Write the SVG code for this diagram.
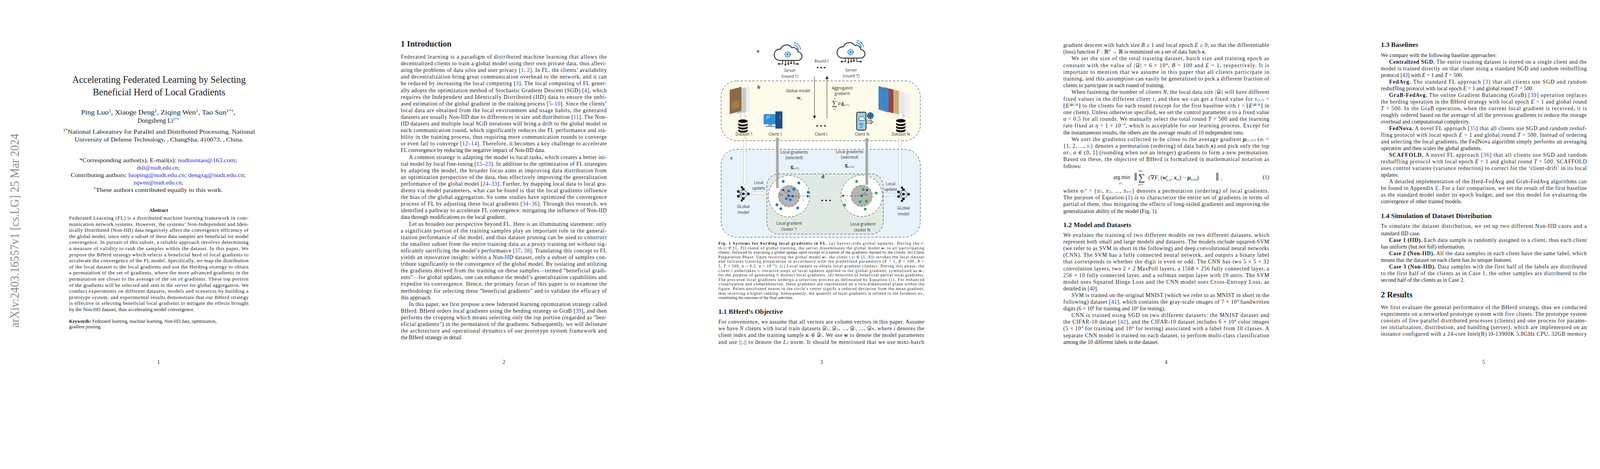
<svg xmlns="http://www.w3.org/2000/svg" width="4240" height="1200" viewBox="0 0 4240 1200">
<style>
text{font-family:"Liberation Serif","DejaVu Serif",serif;fill:#1a1a1a}
.b{font-size:14px}
.ab{font-size:13px}
.cap{font-size:10.3px}
.h1{font-size:21px;font-weight:bold}
.h2{font-size:17.5px;font-weight:bold}
.bold{font-weight:bold}
.lk{fill:#2a2ad0}
.f{font-family:"Open Sans","Liberation Sans",sans-serif;font-size:10px;fill:#2b2b2b}
.fl{font-family:"Liberation Serif",serif;font-weight:bold;font-size:13px}
.pn{font-size:14px}
.box{stroke:#333;stroke-width:1;stroke-dasharray:6 4}
</style>
<defs>
<marker id="ah" markerWidth="8" markerHeight="8" refX="7" refY="4" orient="auto" markerUnits="userSpaceOnUse"><path d="M0,0 L8,4 L0,8 z" fill="#222"/></marker>
<marker id="ahs" markerWidth="6" markerHeight="6" refX="5" refY="3" orient="auto" markerUnits="userSpaceOnUse"><path d="M0,0 L6,3 L0,6 z" fill="#222"/></marker>
<g id="cloud">
<path d="M-26,14 h52 a12,12 0 0 0 2,-24 a14,14 0 0 0 -18,-12 a18,18 0 0 0 -32,4 a12,12 0 0 0 -4,32 z" fill="none" stroke="#2a2a2a" stroke-width="2.4"/>
<circle cx="-2" cy="-3" r="7" fill="none" stroke="#1e7fd0" stroke-width="4" stroke-dasharray="3 2"/>
<circle cx="-2" cy="-3" r="3" fill="#1e7fd0"/>
<path d="M14,-24 a10,10 0 0 1 9,8 M15,-30 a16,16 0 0 1 14,14 M16,-36 a22,22 0 0 1 19,19" fill="none" stroke="#1e7fd0" stroke-width="2"/>
<path d="M-16,14 v10 h-10 M-8,14 v12 M0,14 v10 M8,14 v8 M16,14 v10 h10" fill="none" stroke="#2a2a2a" stroke-width="2"/>
<circle cx="-27" cy="24" r="2.6" fill="#2a2a2a"/><circle cx="-8" cy="26" r="2.6" fill="#2a2a2a"/><circle cx="0" cy="24" r="2.6" fill="#2a2a2a"/><circle cx="8" cy="22" r="2.6" fill="#2a2a2a"/><circle cx="27" cy="24" r="2.6" fill="#2a2a2a"/>
</g>
<g id="db">
<ellipse cx="0" cy="-12" rx="12" ry="4.5" fill="#111"/>
<path d="M-12,-8 a12,4.5 0 0 0 24,0 v5 a12,4.5 0 0 1 -24,0 z" fill="#111"/>
<path d="M-12,0 a12,4.5 0 0 0 24,0 v5 a12,4.5 0 0 1 -24,0 z" fill="#111"/>
<path d="M-12,8 a12,4.5 0 0 0 24,0 v5 a12,4.5 0 0 1 -24,0 z" fill="#111"/>
</g>
<g id="net">
<g stroke="#2f4f9f" stroke-width="1.2">
<path d="M-13,-6 L0,-12 M-13,-6 L0,0 M-13,-6 L0,12 M-13,6 L0,-12 M-13,6 L0,0 M-13,6 L0,12 M0,-12 L13,0 M0,0 L13,0 M0,12 L13,0 M-7,-16 L0,-12 M-7,16 L0,12"/>
</g>
<g fill="#111"><circle cx="-13" cy="-6" r="3.3"/><circle cx="-13" cy="6" r="3.3"/><circle cx="0" cy="-12" r="3.3"/><circle cx="0" cy="0" r="3.3"/><circle cx="0" cy="12" r="3.3"/><circle cx="13" cy="0" r="3.3"/><circle cx="-4" cy="-17" r="2.8"/><circle cx="-4" cy="17" r="2.8"/></g>
</g>
</defs>
<rect width="4240" height="1200" fill="#fff"/>

<!-- PAGE 1 -->
<g id="page1">
<text transform="translate(48,838) rotate(-90)" font-family="Liberation Serif,serif" font-size="31" fill="#8a8a8a" style="fill:#8a8a8a" textLength="496" lengthAdjust="spacingAndGlyphs">arXiv:2403.16557v1  [cs.LG]  25 Mar 2024</text>
<g text-anchor="middle">
<text x="407" y="212" font-size="25" textLength="444" lengthAdjust="spacingAndGlyphs">Accelerating Federated Learning by Selecting</text>
<text x="407" y="244" font-size="25" textLength="339" lengthAdjust="spacingAndGlyphs">Beneficial Herd of Local Gradients</text>
<text x="405" y="293" font-size="16" textLength="395" lengthAdjust="spacingAndGlyphs">Ping Luo<tspan font-size="10" dy="-6">1</tspan><tspan dy="6">,  Xiaoge Deng</tspan><tspan font-size="10" dy="-6">1</tspan><tspan dy="6">,  Ziqing Wen</tspan><tspan font-size="10" dy="-6">1</tspan><tspan dy="6">,  Tao Sun</tspan><tspan font-size="10" dy="-6">1*†</tspan><tspan dy="6">,</tspan></text>
<text x="405" y="314" font-size="16">Dongsheng Li<tspan font-size="10" dy="-6">1*†</tspan></text>
<text x="407" y="342" font-size="15" textLength="491" lengthAdjust="spacingAndGlyphs"><tspan font-size="10" dy="-6">1*</tspan><tspan dy="6">National Laboratory for Parallel and Distributed Processing, National</tspan></text>
<text x="407" y="362" font-size="15" textLength="432" lengthAdjust="spacingAndGlyphs">University of Defense Technology, , ChangSha, 410073, , China.</text>
<text x="405" y="415" font-size="15" textLength="404" lengthAdjust="spacingAndGlyphs">*Corresponding author(s). E-mail(s): <tspan class="lk">nudtsuntao@163.com</tspan>;</text>
<text x="405" y="434" font-size="15"><tspan class="lk">dsli@nudt.edu.cn</tspan>;</text>
<text x="405" y="453" font-size="15" textLength="448" lengthAdjust="spacingAndGlyphs">Contributing authors: <tspan class="lk">luoping@nudt.edu.cn</tspan>; <tspan class="lk">dengxg@nudt.edu.cn</tspan>;</text>
<text x="405" y="472" font-size="15"><tspan class="lk">zqwen@nudt.edu.cn</tspan>;</text>
<text x="405" y="491" font-size="15" textLength="331" lengthAdjust="spacingAndGlyphs"><tspan font-size="10" dy="-6">†</tspan><tspan dy="6">These authors contributed equally to this work.</tspan></text>
<text x="406" y="542" font-size="13" font-weight="bold">Abstract</text>
<text x="406" y="931" class="pn">1</text>
</g>
<g class="ab" lengthAdjust="spacing">
<text x="177" y="562" textLength="459">Federated Learning (FL) is a distributed machine learning framework in com-</text>
<text x="177" y="577.6" textLength="459">munication network systems. However, the systems’ Non-Independent and Iden-</text>
<text x="177" y="593.2" textLength="459">tically Distributed (Non-IID) data negatively affect the convergence efficiency of</text>
<text x="177" y="608.8" textLength="459">the global model, since only a subset of these data samples are beneficial for model</text>
<text x="177" y="624.4" textLength="459">convergence. In pursuit of this subset, a reliable approach involves determining</text>
<text x="177" y="640" textLength="459">a measure of validity to rank the samples within the dataset. In this paper, We</text>
<text x="177" y="655.6" textLength="459">propose the BHerd strategy which selects a beneficial herd of local gradients to</text>
<text x="177" y="671.2" textLength="459">accelerate the convergence of the FL model. Specifically, we map the distribution</text>
<text x="177" y="686.8" textLength="459">of the local dataset to the local gradients and use the Herding strategy to obtain</text>
<text x="177" y="702.4" textLength="459">a permutation of the set of gradients, where the more advanced gradients in the</text>
<text x="177" y="718" textLength="459">permutation are closer to the average of the set of gradients. These top portion</text>
<text x="177" y="733.6" textLength="459">of the gradients will be selected and sent to the server for global aggregation. We</text>
<text x="177" y="749.2" textLength="459">conduct experiments on different datasets, models and scenarios by building a</text>
<text x="177" y="764.8" textLength="459">prototype system, and experimental results demonstrate that our BHerd strategy</text>
<text x="177" y="780.4" textLength="459">is effective in selecting beneficial local gradients to mitigate the effects brought</text>
<text x="177" y="796">by the Non-IID dataset, thus accelerating model convergence.</text>
<text x="177" y="826" font-size="12"><tspan font-weight="bold">Keywords:</tspan> Federated learning, machine learning, Non-IID data, optimization,</text>
<text x="177" y="840" font-size="12">gradient pruning.</text>
</g>
</g>

<!-- PAGE 2 -->
<g id="page2" class="b">
<text x="1026" y="119" class="h1">1  Introduction</text>
<text x="1026" y="150" textLength="527">Federated learning is a paradigm of distributed machine learning that allows the</text>
<text x="1026" y="167.1" textLength="527">decentralized clients to train a global model using their own private data, thus allevi-</text>
<text x="1026" y="184.2" textLength="527">ating the problems of data silos and user privacy [<tspan class="lk">1</tspan>, <tspan class="lk">2</tspan>]. In FL, the clients’ availability</text>
<text x="1026" y="201.3" textLength="527">and decentralization bring great communication overhead to the network, and it can</text>
<text x="1026" y="218.4" textLength="527">be reduced by increasing the local computing [<tspan class="lk">3</tspan>]. The local computing of FL gener-</text>
<text x="1026" y="235.5" textLength="527">ally adopts the optimization method of Stochastic Gradient Descent (SGD) [<tspan class="lk">4</tspan>], which</text>
<text x="1026" y="252.6" textLength="527">requires the Independent and Identically Distributed (IID) data to ensure the unbi-</text>
<text x="1026" y="269.7" textLength="527">ased estimation of the global gradient in the training process [<tspan class="lk">5–10</tspan>]. Since the clients’</text>
<text x="1026" y="286.8" textLength="527">local data are obtained from the local environment and usage habits, the generated</text>
<text x="1026" y="303.9" textLength="527">datasets are usually Non-IID due to differences in size and distribution [<tspan class="lk">11</tspan>]. The Non-</text>
<text x="1026" y="321" textLength="527">IID datasets and multiple local SGD iterations will bring a drift to the global model in</text>
<text x="1026" y="338.1" textLength="527">each communication round, which significantly reduces the FL performance and sta-</text>
<text x="1026" y="355.2" textLength="527">bility in the training process, thus requiring more communication rounds to converge</text>
<text x="1026" y="372.3" textLength="527">or even fail to converge [<tspan class="lk">12–14</tspan>]. Therefore, it becomes a key challenge to accelerate</text>
<text x="1026" y="389.4">FL convergence by reducing the negative impact of Non-IID data.</text>
<text x="1047" y="406.5" textLength="506">A common strategy is adapting the model to local tasks, which creates a better ini-</text>
<text x="1026" y="423.6" textLength="527">tial model by local fine-tuning [<tspan class="lk">15–23</tspan>]. In addition to the optimization of FL strategies</text>
<text x="1026" y="440.7" textLength="527">by adapting the model, the broader focus aims at improving data distribution from</text>
<text x="1026" y="457.8" textLength="527">an optimization perspective of the data, thus effectively improving the generalization</text>
<text x="1026" y="474.9" textLength="527">performance of the global model [<tspan class="lk">24–33</tspan>]. Further, by mapping local data to local gra-</text>
<text x="1026" y="492" textLength="527">dients via model parameters, what can be found is that the local gradients influence</text>
<text x="1026" y="509.1" textLength="527">the bias of the global aggregation. So some studies have optimized the convergence</text>
<text x="1026" y="526.2" textLength="527">process of FL by adjusting these local gradients [<tspan class="lk">34–36</tspan>]. Through this research, we</text>
<text x="1026" y="543.3" textLength="527">identified a pathway to accelerate FL convergence: mitigating the influence of Non-IID</text>
<text x="1026" y="560.4">data through modifications to the local gradient.</text>
<text x="1047" y="577.5" textLength="506">Let us broaden our perspective beyond FL. Here is an illuminating statement: only</text>
<text x="1026" y="594.6" textLength="527">a significant portion of the training samples play an important role in the general-</text>
<text x="1026" y="611.7" textLength="527">ization performance of the model, and thus dataset pruning can be used to construct</text>
<text x="1026" y="628.8" textLength="527">the smallest subset from the entire training data as a proxy training set without sig-</text>
<text x="1026" y="645.9" textLength="527">nificantly sacrificing the model’s performance [<tspan class="lk">37</tspan>, <tspan class="lk">38</tspan>]. Translating this concept to FL</text>
<text x="1026" y="663" textLength="527">yields an innovative insight: within a Non-IID dataset, only a subset of samples con-</text>
<text x="1026" y="680.1" textLength="527">tribute significantly to the convergence of the global model. By isolating and utilizing</text>
<text x="1026" y="697.2" textLength="527">the gradients derived from the training on these samples—termed ”beneficial gradi-</text>
<text x="1026" y="714.3" textLength="527">ents”—for global updates, one can enhance the model’s generalization capabilities and</text>
<text x="1026" y="731.4" textLength="527">expedite its convergence. Hence, the primary focus of this paper is to examine the</text>
<text x="1026" y="748.5" textLength="527">methodology for selecting these ”beneficial gradients” and to validate the efficacy of</text>
<text x="1026" y="765.6">this approach.</text>
<text x="1047" y="782.7" textLength="506">In this paper, we first propose a new federated learning optimization strategy called</text>
<text x="1026" y="799.8" textLength="527">BHerd. BHerd orders local gradients using the herding strategy in GraB [<tspan class="lk">39</tspan>], and then</text>
<text x="1026" y="816.9" textLength="527">performs the cropping which means selecting only the top portion (regarded as ”ben-</text>
<text x="1026" y="834" textLength="527">eficial gradients”) in the permutation of the gradients. Subsequently, we will delineate</text>
<text x="1026" y="851.1" textLength="527">the architecture and operational dynamics of our prototype system framework and</text>
<text x="1026" y="868.2">the BHerd strategy in detail.</text>
<text x="1290" y="931" class="pn" text-anchor="middle">2</text>
</g>

<!-- PAGE 3 : FIGURE -->
<g id="figure1">
<g id="box-b"><rect x="1846" y="207" width="510" height="153" rx="40" fill="#fdfbea" class="box"/></g>
<g id="box-c"><rect x="1846" y="382" width="510" height="225" rx="40" fill="#e7f2fb" class="box"/></g>
<g id="box-d"><rect x="1963" y="445" width="298" height="154" rx="30" fill="#dfeae4" class="box"/></g>
<text x="1937" y="134" class="fl">a</text>
<text x="1939" y="227" class="fl">b</text>
<text x="1870" y="408" class="fl">c</text>
<text x="2103" y="456" class="fl">d</text>

<g id="server1"><use href="#cloud" transform="translate(2018,142) scale(0.9)"/>
<text x="2022" y="184" class="f" text-anchor="middle">Server</text><text x="2022" y="199" class="f" text-anchor="middle">(round 1)</text></g>
<g id="serverT"><use href="#cloud" transform="translate(2179,136) scale(0.9)"/>
<text x="2179" y="183" class="f" text-anchor="middle">Server</text><text x="2179" y="198" class="f" text-anchor="middle">(round T)</text></g>
<g id="roundt"><text x="2103" y="160" class="f" text-anchor="middle">Round t</text>
<g fill="#111"><circle cx="2093" cy="173" r="2"/><circle cx="2102" cy="173" r="2"/><circle cx="2111" cy="173" r="2"/></g></g>

<g id="dataset1">
<g transform="translate(1868,222)"><path d="M28,4 l22,-4 v62 l-22,6 z" fill="#eee" stroke="#ccc" stroke-width="0.5"/><path d="M18,6 l24,-4 v62 l-24,6 z" fill="#c9c9c9" stroke="#ddd" stroke-width="0.5"/><path d="M0,8 l30,-8 v62 l-30,8 z" fill="#8a6a48"/><path d="M6,40 l18,-6 v18 l-18,6 z" fill="#b07840"/></g>
<path d="M1897,287 h10 v10 h5 l-10,9 l-10,-9 h5 z" fill="#fff" stroke="#999" stroke-width="0.8"/>
<use href="#db" transform="translate(1902,322)"/>
<text x="1905" y="347" class="f" text-anchor="middle">Dataset 1</text></g>
<g id="client1">
<rect x="1955" y="292" width="34" height="26" rx="2" fill="#2f8fd8"/><path d="M1962,300 l6,-5 M1962,305 l10,-8" stroke="#cfe8ff" stroke-width="1.5"/>
<rect x="1967" y="318" width="10" height="5" fill="#8aa"/><rect x="1960" y="322" width="24" height="3" fill="#8aa"/>
<rect x="1985" y="285" width="18" height="44" rx="1" fill="#1e4f86"/><circle cx="1997" cy="297" r="1.5" fill="#e77"/><circle cx="1997" cy="302" r="1.5" fill="#6c6"/>
<text x="1985" y="347" class="f" text-anchor="middle">Client 1</text></g>
<g id="clienti"><g fill="#111"><circle cx="2092" cy="322" r="2"/><circle cx="2102" cy="322" r="2"/><circle cx="2112" cy="322" r="2"/></g>
<text x="2102" y="347" class="f" text-anchor="middle">Client i</text></g>
<text x="2043" y="236" class="f" text-anchor="middle">Global model</text>
<text x="2040" y="254" font-size="13" font-weight="bold">w<tspan font-size="8" font-style="italic" font-weight="normal" dy="3">t</tspan></text>
<g id="aggr"><text x="2156" y="229" class="f" text-anchor="middle">Aggregated</text><text x="2156" y="243" class="f" text-anchor="middle">gradient</text>
<text x="2130" y="270" font-size="18">∑</text><text x="2135" y="254" font-size="6" font-style="italic">N</text><text x="2132" y="281" font-size="6" font-style="italic">i=1</text>
<text x="2146" y="268" font-size="12" font-style="italic">p<tspan font-size="7" dy="2">i</tspan><tspan font-style="normal" font-weight="bold" font-size="12" dy="-2">g</tspan><tspan font-size="6" dy="3">(t,σ</tspan><tspan font-size="5" dy="-3">π</tspan><tspan font-size="5" dy="3">i</tspan><tspan font-size="6">)</tspan></text></g>
<g id="clientN">
<rect x="2193" y="287" width="24" height="46" rx="4" fill="#8fd0f0" stroke="#222" stroke-width="1.8"/>
<path d="M2199,305 a5,5 0 0 1 7,-6 a4,4 0 0 1 6,3 a3,3 0 0 1 -1,6 h-11 a3,3 0 0 1 -1,-3" fill="#fff" stroke="#222" stroke-width="1"/>
<path d="M2200,318 a7,7 0 0 1 10,0 M2202,321 a4,4 0 0 1 6,0" fill="none" stroke="#222" stroke-width="1"/><circle cx="2205" cy="325" r="1.3" fill="#222"/>
<circle cx="2228" cy="296" r="8" fill="#2f8fd8" stroke="#222" stroke-width="1"/><path d="M2220,296 h16 M2228,288 v16 M2223,290 q5,6 0,12 M2233,290 q-5,6 0,12" fill="none" stroke="#222" stroke-width="0.8"/>
<path d="M2217,308 h12 M2217,312 h14 M2217,316 h12" stroke="#222" stroke-width="1"/><circle cx="2230" cy="308" r="1.5" fill="none" stroke="#222"/><circle cx="2233" cy="312" r="1.5" fill="none" stroke="#222"/><circle cx="2230" cy="316" r="1.5" fill="none" stroke="#222"/>
<text x="2207" y="347" class="f" text-anchor="middle">Client N</text></g>
<g id="datasetN">
<g transform="translate(2249,220)"><path d="M60,16 l20,6 v60 l-20,-6 z" fill="#f2f2f2" stroke="#ddd" stroke-width="0.5"/><path d="M45,10 l22,7 v60 l-22,-7 z" fill="#e8e8f0"/><path d="M28,6 l24,7 v60 l-24,-7 z" fill="#c8b070"/><path d="M14,3 l24,7 v60 l-24,-7 z" fill="#a04040"/><path d="M0,0 l26,8 v60 l-26,-8 z" fill="#3a88c8"/></g>
<path d="M2301,287 h10 v10 h5 l-10,9 l-10,-9 h5 z" fill="#fff" stroke="#999" stroke-width="0.8"/>
<use href="#db" transform="translate(2306,321)"/>
<text x="2306" y="347" class="f" text-anchor="middle">Dataset N</text></g>

<g id="sel1"><text x="2033" y="393" class="f" text-anchor="middle">Local gradients</text><text x="2033" y="407" class="f" text-anchor="middle">(selected)</text>
<text x="2024" y="430" font-size="13" font-weight="bold">g<tspan font-size="6" font-weight="normal" font-style="italic" dy="3">(t,σ</tspan><tspan font-size="5" font-style="italic" dy="-3">π</tspan><tspan font-size="5" font-style="italic" dy="3">1</tspan><tspan font-size="6" font-weight="normal">)</tspan></text></g>
<g id="selN"><text x="2175" y="392" class="f" text-anchor="middle">Local gradients</text><text x="2175" y="406" class="f" text-anchor="middle">(selected)</text>
<text x="2163" y="426" font-size="13" font-weight="bold">g<tspan font-size="6" font-weight="normal" font-style="italic" dy="3">(t,σ</tspan><tspan font-size="5" font-style="italic" dy="-3">π</tspan><tspan font-size="5" font-style="italic" dy="3">N</tspan><tspan font-size="6" font-weight="normal">)</tspan></text></g>

<g id="cluster1">
<circle cx="2020" cy="502" r="53" fill="#fff" class="box"/>
<circle cx="2020" cy="502" r="27" fill="#b4b4b6" class="box"/>
<g fill="#1f73c8"><circle cx="2005" cy="464" r="3.5"/><circle cx="2045" cy="468" r="3.5"/><circle cx="2069" cy="492" r="3.5"/><circle cx="2019" cy="489" r="3.5"/><circle cx="2032" cy="484" r="3.5"/><circle cx="2019" cy="501" r="3.5"/><circle cx="2029" cy="502" r="3.5"/><circle cx="2013" cy="508" r="3.5"/><circle cx="2023" cy="511" r="3.5"/><circle cx="1989" cy="524" r="3.5"/><circle cx="1999" cy="534" r="3.5"/><circle cx="2042" cy="532" r="3.5"/></g>
<text x="2020" y="575" class="f" text-anchor="middle">Local gradient</text><text x="2020" y="590" class="f" text-anchor="middle">cluster 1</text></g>
<g fill="#111" id="dotsd"><circle cx="2105" cy="513" r="2"/><circle cx="2115" cy="513" r="2"/><circle cx="2125" cy="513" r="2"/></g>
<g id="clusterN">
<circle cx="2206" cy="501" r="53" fill="#fff" class="box"/>
<circle cx="2206" cy="501" r="27" fill="#b4b4b6" class="box"/>
<g fill="#22aa44"><circle cx="2193" cy="464" r="3.5"/><circle cx="2210" cy="485" r="3.5"/><circle cx="2243" cy="494" r="3.5"/><circle cx="2206" cy="501" r="3.5"/><circle cx="2202" cy="516" r="3.5"/><circle cx="2218" cy="515" r="3.5"/><circle cx="2162" cy="525" r="3.5"/><circle cx="2215" cy="535" r="3.5"/></g>
<text x="2209" y="577" class="f" text-anchor="middle">Local gradient</text><text x="2207" y="592" class="f" text-anchor="middle">cluster N</text></g>
<g id="globalmodel1"><use href="#net" transform="translate(1903,496)"/>
<text x="1903" y="532" class="f" text-anchor="middle">GLobal</text><text x="1903" y="547" class="f" text-anchor="middle">model</text>
<text x="1942" y="471" class="f" text-anchor="middle">Local</text><text x="1942" y="485" class="f" text-anchor="middle">update</text></g>
<g id="globalmodelN"><use href="#net" transform="translate(2313,497)"/>
<text x="2313" y="536" class="f" text-anchor="middle">GLobal</text><text x="2313" y="551" class="f" text-anchor="middle">model</text>
<text x="2280" y="474" class="f" text-anchor="middle">Local</text><text x="2280" y="488" class="f" text-anchor="middle">update</text></g>

<g id="connectors">
<line x1="2085" y1="195" x2="2085" y2="303" stroke="#222" stroke-width="1" marker-end="url(#ah)"/>
<line x1="2117" y1="303" x2="2117" y2="195" stroke="#222" stroke-width="1" marker-end="url(#ah)"/>
<path d="M1987,481 V358 h-3 l6,-7 l6,7 h-3 V481 z" fill="#a9a9a9" stroke="#999" stroke-width="0.5"/>
<path d="M2216,473 V359 h-3 l6,-7 l6,7 h-3 V473 z" fill="#a9a9a9" stroke="#999" stroke-width="0.5"/>
<path d="M1904,352 h6 v114 h3 l-6,7 l-6,-7 h3 z" fill="#fff" stroke="#aaa" stroke-width="0.8"/>
<path d="M2301,355 h6 v114 h3 l-6,7 l-6,-7 h3 z" fill="#fff" stroke="#aaa" stroke-width="0.8"/>
<path d="M1925,491 h28 v-3 l7,6 l-7,6 v-3 h-28 z" fill="#fff" stroke="#aaa" stroke-width="0.8"/>
<path d="M2293,495 h-23 v-3 l-7,6 l7,6 v-3 h23 z" fill="#fff" stroke="#aaa" stroke-width="0.8"/>
<line x1="2020" y1="502" x2="2071" y2="502" stroke="#222" stroke-width="0.8" stroke-dasharray="4 3" marker-end="url(#ahs)"/>
<line x1="2020" y1="502" x2="2003" y2="484" stroke="#222" stroke-width="0.8" marker-end="url(#ahs)"/>
<line x1="2206" y1="501" x2="2155" y2="501" stroke="#222" stroke-width="0.8" stroke-dasharray="4 3" marker-end="url(#ahs)"/>
<line x1="2206" y1="501" x2="2222" y2="484" stroke="#222" stroke-width="0.8" marker-end="url(#ahs)"/>
</g>
<text x="2054" y="514" font-size="8" font-style="italic" fill="#555" style="fill:#555">τ<tspan font-size="5" dy="2">i</tspan></text>
<text x="1995" y="500" font-size="9" font-style="italic" fill="#444" style="fill:#444">ατ<tspan font-size="5" dy="2">i</tspan></text>
<text x="2164" y="514" font-size="8" font-style="italic" fill="#555" style="fill:#555">τ<tspan font-size="5" dy="2">i</tspan></text>
<text x="2213" y="500" font-size="9" font-style="italic" fill="#444" style="fill:#444">ατ<tspan font-size="5" dy="2">i</tspan></text>
</g>

<!-- PAGE 3 : CAPTION + TEXT -->
<g id="page3" class="cap">
<text x="1839" y="626" textLength="527"><tspan font-weight="bold">Fig. 1   Systems for herding local gradients in FL.</tspan> (a) Server-side global updates. During the <tspan font-style="italic">t</tspan>-</text>
<text x="1839" y="637.6" textLength="527">th (<tspan font-style="italic">t</tspan> ∈ [1, <tspan font-style="italic">T</tspan>]) round of global training, the server disseminates the global model <tspan font-weight="bold" font-style="italic">w</tspan><tspan font-size="7" font-style="italic">t</tspan> to all participating</text>
<text x="1839" y="649.2" textLength="527">clients, followed by executing a global update upon receipt of a subset of the gradients learned by the clients. (b) Client</text>
<text x="1839" y="660.8" textLength="527">Preparation Phase. Upon receiving the global model <tspan font-weight="bold" font-style="italic">w</tspan><tspan font-size="7" font-style="italic">t</tspan>, the client <tspan font-style="italic">i</tspan> (<tspan font-style="italic">i</tspan> ∈ [1, <tspan font-style="italic">N</tspan>]) invokes the local dataset</text>
<text x="1839" y="672.4" textLength="527">and initiates training preparation in accordance with the predefined parameters (<tspan font-style="italic">E</tspan> = 1, <tspan font-style="italic">B</tspan> = 100, <tspan font-style="italic">N</tspan> =</text>
<text x="1839" y="684" textLength="527">5, <tspan font-style="italic">T</tspan> = 500, <tspan font-style="italic">α</tspan> = 0.5, <tspan font-style="italic">η</tspan> = 10<tspan font-size="7" dy="-4">−4</tspan><tspan dy="4">). (c) Local update to obtain local gradient clusters. During this phase, the</tspan></text>
<text x="1839" y="695.6" textLength="527">client <tspan font-style="italic">i</tspan> undertakes <tspan font-style="italic">τ</tspan><tspan font-size="7" font-style="italic">i</tspan> iterative steps of local updates applied to the global gradient, symbolized as <tspan font-weight="bold" font-style="italic">w</tspan><tspan font-size="7" font-style="italic">t</tspan>,</text>
<text x="1839" y="707.2" textLength="527">for the purpose of generating <tspan font-style="italic">τ</tspan><tspan font-size="7" font-style="italic">i</tspan> distinct local gradients. (d) Selection of beneficial partial local gradients.</text>
<text x="1839" y="718.8" textLength="527">The procured local gradients undergo a selection process as delineated by Equation (<tspan class="lk">1</tspan>). For enhanced</text>
<text x="1839" y="730.4" textLength="527">visualization and comprehension, these gradients are represented on a two-dimensional plane within the</text>
<text x="1839" y="742" textLength="527">figure. Points positioned nearer to the circle’s center signify a reduced deviation from the mean gradient,</text>
<text x="1839" y="753.6" textLength="527">thus receiving a higher ranking. Subsequently, the quantity of local gradients is refined to the foremost <tspan font-style="italic">ατ</tspan><tspan font-size="7" font-style="italic">i</tspan>,</text>
<text x="1839" y="765.2">constituting the outcome of the final selection.</text>
</g>
<g class="b">
<text x="1839" y="803" class="h2">1.1  BHerd’s Objective</text>
<text x="1839" y="828" textLength="527">For convenience, we assume that all vectors are column vectors in this paper. Assume</text>
<text x="1839" y="845.2" textLength="527">we have <tspan font-style="italic">N</tspan> clients with local train datasets 𝒟<tspan font-size="9">1</tspan>, 𝒟<tspan font-size="9">2</tspan>, ..., 𝒟<tspan font-size="9" font-style="italic">i</tspan>, ..., 𝒟<tspan font-size="9" font-style="italic">N</tspan>, where <tspan font-style="italic">i</tspan> denotes the</text>
<text x="1839" y="862.4" textLength="527">client index and the training sample <tspan font-weight="bold" font-style="italic">x</tspan><tspan font-size="9" font-style="italic">i</tspan> ∈ 𝒟<tspan font-size="9" font-style="italic">i</tspan>. We use <tspan font-weight="bold" font-style="italic">w</tspan> to denote the model parameters</text>
<text x="1839" y="879.6" textLength="527">and use ||.|| to denote the <tspan font-style="italic">L</tspan><tspan font-size="9">2</tspan> norm. It should be mentioned that we use mini-batch</text>
<text x="2103" y="931" class="pn" text-anchor="middle">3</text>
</g>

<!-- PAGE 4 -->
<g id="page4" class="b">
<text x="2722" y="120" textLength="527">gradient descent with batch size <tspan font-style="italic">B</tspan> ≥ 1 and local epoch <tspan font-style="italic">E</tspan> ≥ 0, so that the differentiable</text>
<text x="2722" y="137.2">(loss) function <tspan font-style="italic">F</tspan> : ℝ<tspan font-size="9" dy="-5" font-style="italic">d</tspan><tspan dy="5"> → ℝ is minimized on a set of data batch </tspan><tspan font-weight="bold" font-style="italic">x</tspan>.</text>
<text x="2743" y="154.4" textLength="506">We set the size of the total training dataset, batch size and training epoch as</text>
<text x="2722" y="171.6" textLength="527">constant with the value of |𝒟| = 6 × 10<tspan font-size="9" dy="-5">4</tspan><tspan dy="5">, </tspan><tspan font-style="italic">B</tspan> = 100 and <tspan font-style="italic">E</tspan> = 1, respectively. It is</text>
<text x="2722" y="188.8" textLength="527">important to mention that we assume in this paper that all clients participate in</text>
<text x="2722" y="206" textLength="527">training, and this assumption can easily be generalized to pick a different fraction of</text>
<text x="2722" y="223.2">clients to participate in each round of training.</text>
<text x="2743" y="240.4" textLength="506">When fastening the number of clients <tspan font-style="italic">N</tspan>, the local data size |𝒟<tspan font-size="9" font-style="italic">i</tspan>| will have different</text>
<text x="2722" y="257.6" textLength="527">fixed values in the different client <tspan font-style="italic">i</tspan>, and then we can get a fixed value for <tspan font-style="italic">τ</tspan><tspan font-size="9">(</tspan><tspan font-size="9" font-style="italic">t,i</tspan><tspan font-size="9">)</tspan> =</text>
<text x="2722" y="274.8" textLength="527">⌊<tspan font-style="italic">E</tspan><tspan font-size="8" dy="-4">|𝒟i|/B</tspan><tspan dy="4">⌋ to the clients for each round (except for the first baseline with </tspan><tspan font-style="italic">τ</tspan> = ⌊<tspan font-style="italic">E</tspan><tspan font-size="8" dy="-4">|𝒟|/B</tspan><tspan dy="4">⌋ in</tspan></text>
<text x="2722" y="292" textLength="527">one client). Unless otherwise specified, we set the control parameter <tspan font-style="italic">α</tspan> to a fixed value</text>
<text x="2722" y="309.2" textLength="527"><tspan font-style="italic">α</tspan> = 0.5 for all rounds. We manually select the total round <tspan font-style="italic">T</tspan> = 500 and the learning</text>
<text x="2722" y="326.4" textLength="527">rate fixed at <tspan font-style="italic">η</tspan> = 1 × 10<tspan font-size="9" dy="-5">−4</tspan><tspan dy="5">, which is acceptable for our learning process. Except for</tspan></text>
<text x="2722" y="343.6">the instantaneous results, the others are the average results of 10 independent runs.</text>
<text x="2743" y="360.8" textLength="506">We sort the gradients collected to be close to the average gradient <tspan font-weight="bold" font-style="italic">μ</tspan><tspan font-size="9">(</tspan><tspan font-size="9" font-style="italic">t,σi</tspan><tspan font-size="9">)</tspan> (<tspan font-style="italic">σ</tspan><tspan font-size="9" font-style="italic">i</tspan> =</text>
<text x="2722" y="378" textLength="527">{1, 2, ..., <tspan font-style="italic">τ</tspan><tspan font-size="9" font-style="italic">i</tspan>} denotes a permutation (ordering) of data batch <tspan font-weight="bold" font-style="italic">x</tspan>) and pick only the top</text>
<text x="2722" y="395.2" textLength="527"><tspan font-style="italic">ατ</tspan><tspan font-size="9" font-style="italic">i</tspan>, <tspan font-style="italic">α</tspan> ∈ (0, 1] (rounding when not an integer) gradients to form a new permutation.</text>
<text x="2722" y="412.4" textLength="527">Based on these, the objective of BHerd is formalized in mathematical notation as</text>
<text x="2722" y="429.6">follows:</text>
<text x="2850" y="458">arg min</text>
<text x="2865" y="472" font-size="8" font-style="italic">σ<tspan font-size="6" dy="-3">π</tspan><tspan font-size="6" dy="4">i</tspan></text>
<text x="2903" y="462" font-size="30" font-weight="normal">‖</text>
<text x="2914" y="462" font-size="24">∑</text>
<text x="2915" y="440" font-size="8" font-style="italic">ατi</text>
<text x="2914" y="475" font-size="8" font-style="italic">λ=1</text>
<text x="2940" y="459" font-size="15">(∇<tspan font-style="italic">F</tspan><tspan font-size="9" font-style="italic" dy="3">i</tspan><tspan dy="-3"> (</tspan><tspan font-weight="bold" font-style="italic">w</tspan><tspan font-size="8" font-style="italic" dy="-5">λ</tspan><tspan font-size="8" dx="-4" dy="9">(t,i)</tspan><tspan dy="-4">; </tspan><tspan font-weight="bold" font-style="italic">x</tspan><tspan font-size="8" font-style="italic" dy="3">σi</tspan><tspan dy="-3">) − </tspan><tspan font-weight="bold" font-style="italic">μ</tspan><tspan font-size="8" font-style="italic" dy="3">(t,σi)</tspan><tspan dy="-3">)</tspan></text>
<text x="3112" y="462" font-size="30">‖</text>
<text x="3126" y="460">,</text>
<text x="3249" y="458" text-anchor="end">(1)</text>
<text x="2722" y="493" textLength="527">where <tspan font-style="italic">σ</tspan><tspan font-size="9" font-style="italic">i</tspan><tspan font-size="9" font-style="italic" dy="-6">π</tspan><tspan dy="6"> = {</tspan><tspan font-style="italic">π</tspan><tspan font-size="9">1</tspan>, <tspan font-style="italic">π</tspan><tspan font-size="9">2</tspan>, ..., <tspan font-style="italic">π</tspan><tspan font-size="9" font-style="italic">ατi</tspan>} denotes a permutation (ordering) of local gradients.</text>
<text x="2722" y="510.2" textLength="527">The purpose of Equation (<tspan class="lk">1</tspan>) is to characterize the entire set of gradients in terms of</text>
<text x="2722" y="527.4" textLength="527">partial of them, thus mitigating the effects of long-tailed gradients and improving the</text>
<text x="2722" y="544.6">generalization ability of the model (Fig. <tspan class="lk">1</tspan>).</text>
<text x="2722" y="581" class="h2">1.2  Model and Datasets</text>
<text x="2722" y="606" textLength="527">We evaluate the training of two different models on two different datasets, which</text>
<text x="2722" y="623.1" textLength="527">represent both small and large models and datasets. The models include squared-SVM</text>
<text x="2722" y="640.2" textLength="527">(we refer to as SVM in short in the following) and deep convolutional neural networks</text>
<text x="2722" y="657.3" textLength="527">(CNN). The SVM has a fully connected neural network, and outputs a binary label</text>
<text x="2722" y="674.4" textLength="527">that corresponds to whether the digit is even or odd. The CNN has two 5 × 5 × 32</text>
<text x="2722" y="691.5" textLength="527">convolution layers, two 2 × 2 MaxPoll layers, a 1568 × 256 fully connected layer, a</text>
<text x="2722" y="708.6" textLength="527">256 × 10 fully connected layer, and a softmax output layer with 10 units. The SVM</text>
<text x="2722" y="725.7" textLength="527">model uses Squared Hinge Loss and the CNN model uses Cross-Entropy Loss, as</text>
<text x="2722" y="742.8">detailed in [<tspan class="lk">40</tspan>].</text>
<text x="2743" y="759.9" textLength="506">SVM is trained on the original MNIST (which we refer to as MNIST in short in the</text>
<text x="2722" y="777" textLength="527">following) dataset [<tspan class="lk">41</tspan>], which contains the gray-scale images of 7 × 10<tspan font-size="9" dy="-5">4</tspan><tspan dy="5"> handwritten</tspan></text>
<text x="2722" y="794.1">digits (6 × 10<tspan font-size="9" dy="-5">4</tspan><tspan dy="5"> for training and 10</tspan><tspan font-size="9" dy="-5">4</tspan><tspan dy="5"> for testing).</tspan></text>
<text x="2743" y="811.2" textLength="506">CNN is trained using SGD on two different datasets: the MNIST dataset and</text>
<text x="2722" y="828.3" textLength="527">the CIFAR-10 dataset [<tspan class="lk">42</tspan>], and the CIFAR-10 dataset includes 6 × 10<tspan font-size="9" dy="-5">4</tspan><tspan dy="5"> color images</tspan></text>
<text x="2722" y="845.4" textLength="527">(5 × 10<tspan font-size="9" dy="-5">4</tspan><tspan dy="5"> for training and 10</tspan><tspan font-size="9" dy="-5">4</tspan><tspan dy="5"> for testing) associated with a label from 10 classes. A</tspan></text>
<text x="2722" y="862.5" textLength="527">separate CNN model is trained on each dataset, to perform multi-class classification</text>
<text x="2722" y="879.6">among the 10 different labels in the dataset.</text>
<text x="2985" y="931" class="pn" text-anchor="middle">4</text>
</g>

<!-- PAGE 5 -->
<g id="page5" class="b">
<text x="3535" y="120" class="h2">1.3  Baselines</text>
<text x="3535" y="146">We compare with the following baseline approaches:</text>
<text x="3556" y="163" textLength="506"><tspan class="bold">Centralized SGD.</tspan> The entire training dataset is stored on a single client and the</text>
<text x="3535" y="180" textLength="527">model is trained directly on that client using a standard SGD and random reshuffling</text>
<text x="3535" y="197">protocol [<tspan class="lk">43</tspan>] with <tspan font-style="italic">E</tspan> = 1 and <tspan font-style="italic">T</tspan> = 500.</text>
<text x="3556" y="214" textLength="506"><tspan class="bold">FedAvg.</tspan> The standard FL approach [<tspan class="lk">3</tspan>] that all clients use SGD and random</text>
<text x="3535" y="231">reshuffling protocol with local epoch <tspan font-style="italic">E</tspan> = 1 and global round <tspan font-style="italic">T</tspan> = 500.</text>
<text x="3556" y="248" textLength="506"><tspan class="bold">GraB-FedAvg.</tspan> The online Gradient Balancing (GraB) [<tspan class="lk">39</tspan>] operation replaces</text>
<text x="3535" y="265" textLength="527">the herding operation in the BHerd strategy with local epoch <tspan font-style="italic">E</tspan> = 1 and global round</text>
<text x="3535" y="282" textLength="527"><tspan font-style="italic">T</tspan> = 500. In the GraB operation, when the current local gradient is received, it is</text>
<text x="3535" y="299" textLength="527">roughly ordered based on the average of all the previous gradients to reduce the storage</text>
<text x="3535" y="316">overhead and computational complexity.</text>
<text x="3556" y="333" textLength="506"><tspan class="bold">FedNova.</tspan> A novel FL approach [<tspan class="lk">35</tspan>] that all clients use SGD and random reshuf-</text>
<text x="3535" y="350" textLength="527">fling protocol with local epoch <tspan font-style="italic">E</tspan> = 1 and global round <tspan font-style="italic">T</tspan> = 500. Instead of ordering</text>
<text x="3535" y="367" textLength="527">and selecting the local gradients, the FedNova algorithm simply performs an averaging</text>
<text x="3535" y="384">operation and then scales the global gradients.</text>
<text x="3556" y="401" textLength="506"><tspan class="bold">SCAFFOLD.</tspan> A novel FL approach [<tspan class="lk">36</tspan>] that all clients use SGD and random</text>
<text x="3535" y="418" textLength="527">reshuffling protocol with local epoch <tspan font-style="italic">E</tspan> = 1 and global round <tspan font-style="italic">T</tspan> = 500. SCAFFOLD</text>
<text x="3535" y="435" textLength="527">uses control variates (variance reduction) to correct for the ‘client-drift’ in its local</text>
<text x="3535" y="452">updates.</text>
<text x="3556" y="469" textLength="506">A detailed implementation of the Herd-FedAvg and Grab-FedAvg algorithms can</text>
<text x="3535" y="486" textLength="527">be found in Appendix <tspan class="lk">E</tspan>. For a fair comparison, we set the result of the first baseline</text>
<text x="3535" y="503" textLength="527">as the standard model under its epoch budget, and use this model for evaluating the</text>
<text x="3535" y="520">convergence of other trained models.</text>
<text x="3535" y="558" class="h2">1.4  Simulation of Dataset Distribution</text>
<text x="3535" y="583" textLength="527">To simulate the dataset distribution, we set up two different Non-IID cases and a</text>
<text x="3535" y="602">standard IID case.</text>
<text x="3556" y="619" textLength="506"><tspan class="bold">Case 1 (IID).</tspan> Each data sample is randomly assigned to a client, thus each client</text>
<text x="3535" y="636">has uniform (but not full) information.</text>
<text x="3556" y="653" textLength="506"><tspan class="bold">Case 2 (Non-IID).</tspan> All the data samples in each client have the same label, which</text>
<text x="3535" y="670">means that the dataset on each client has its unique features.</text>
<text x="3556" y="687" textLength="506"><tspan class="bold">Case 3 (Non-IID).</tspan> Data samples with the first half of the labels are distributed</text>
<text x="3535" y="704" textLength="527">to the first half of the clients as in Case 1, the other samples are distributed to the</text>
<text x="3535" y="721">second half of the clients as in Case 2.</text>
<text x="3535" y="761" class="h1">2  Results</text>
<text x="3535" y="791" textLength="527">We first evaluate the general performance of the BHerd strategy, thus we conducted</text>
<text x="3535" y="808" textLength="527">experiments on a networked prototype system with five clients. The prototype system</text>
<text x="3535" y="825" textLength="527">consists of five parallel distributed processes (clients) and one process for parame-</text>
<text x="3535" y="842" textLength="527">ter initialization, distribution, and handling (server), which are implemented on an</text>
<text x="3535" y="859" textLength="527">instance configured with a 24-core Intel(R) i9-13900K 5.8GHz CPU, 32GB memory</text>
<text x="3798" y="931" class="pn" text-anchor="middle">5</text>
</g>
</svg>
